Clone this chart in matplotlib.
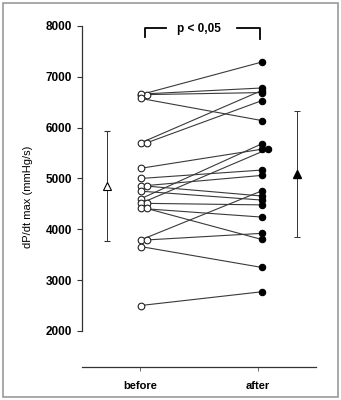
import numpy as np
import matplotlib
matplotlib.use('Agg')
import matplotlib.pyplot as plt
from matplotlib.patches import Rectangle

plt.rcParams['font.family'] = ['Liberation Sans', 'DejaVu Sans']

# dP/dt max (mmHg/s), paired values per subject
before = [6650, 6650, 6660, 6575, 5700, 5700, 5200, 5000, 4850, 4850,
          4750, 4600, 4510, 4510, 4410, 4410, 3790, 3790, 3660, 2500]
after = [7290, 6690, 6780, 6140, 6730, 6530, 5575, 5165, 5060, 4655,
         4575, 5680, 5575, 4480, 4240, 3800, 4755, 3920, 3250, 2770]

# mean +/- SD for each group
group_mean = [4850, 5080]
group_sd = [1080, 1240]

group_labels = ['before', 'after']
y_ticks = [2000, 3000, 4000, 5000, 6000, 7000, 8000]
p_text = 'p < 0,05'


def spread(vals, base, step=0.05):
    # shift coinciding values sideways so both circles stay visible
    xs = []
    for i, v in enumerate(vals):
        k = vals[:i].count(v)
        xs.append(base + step * k)
    return xs


fig = plt.figure(figsize=(3.41, 4.0), dpi=100)
ax = fig.add_axes([0.2405, 0.0825, 0.686, 0.8525])

xb = spread(before, 1.005)
xa = spread(after, 2.03)

for x0, y0, x1, y1 in zip(xb, before, xa, after):
    ax.plot([x0, x1], [y0, y1], color='#3a3a3a', lw=0.8, zorder=2)

ax.plot(xb, before, 'o', ms=4.8, mfc='white', mec='#222222', mew=0.8, zorder=3)
ax.plot(xa, after, 'o', ms=4.6, mfc='black', mec='black', mew=0.8, zorder=3)

# group mean +/- SD
ax.errorbar([0.72], [group_mean[0]], yerr=[group_sd[0]], fmt='^', ms=5.5,
            mfc='white', mec='black', mew=0.8, ecolor='#333333', elinewidth=0.7,
            capsize=2.5, capthick=0.7, zorder=3)
ax.errorbar([2.33], [group_mean[1]], yerr=[group_sd[1]], fmt='^', ms=5.5,
            mfc='black', mec='black', ecolor='#333333', elinewidth=0.7,
            capsize=2.5, capthick=0.7, zorder=3)

# significance bracket
ax.plot([1.04, 1.04, 1.22], [7790, 7970, 7970], color='black', lw=1.3, clip_on=False)
ax.plot([1.82, 2.02, 2.02], [7970, 7970, 7750], color='black', lw=1.3, clip_on=False)
ax.text(1.5, 7950, p_text, ha='center', va='center', fontsize=8.5, fontweight='bold')

ax.set_xlim(0.508, 2.49)
ax.set_ylim(1290, 8000)

ax.spines['top'].set_visible(False)
ax.spines['right'].set_visible(False)
ax.spines['left'].set_bounds(2000, 8000)
for s in ['left', 'bottom']:
    ax.spines[s].set_linewidth(0.9)
    ax.spines[s].set_color('#333333')

ax.set_yticks(y_ticks)
ax.set_yticklabels([str(t) for t in y_ticks], fontsize=8.5, fontweight='bold')
ax.tick_params(axis='y', length=3.6, width=0.8, pad=3.5, color='#333333')
ax.set_xticks([1, 2])
ax.set_xticklabels(group_labels, fontsize=8, fontweight='bold')
ax.tick_params(axis='x', length=3, width=0.6, pad=7, color='#555555')

ax.set_ylabel('dP/dt max (mmHg/s)', fontsize=8, labelpad=9)

# scanned page frame
fig.patches.append(Rectangle((0.008, 0.007), 0.984, 0.986, transform=fig.transFigure,
                             fill=False, edgecolor='#999999', lw=1.2))

fig.savefig('out.png', dpi=100)
